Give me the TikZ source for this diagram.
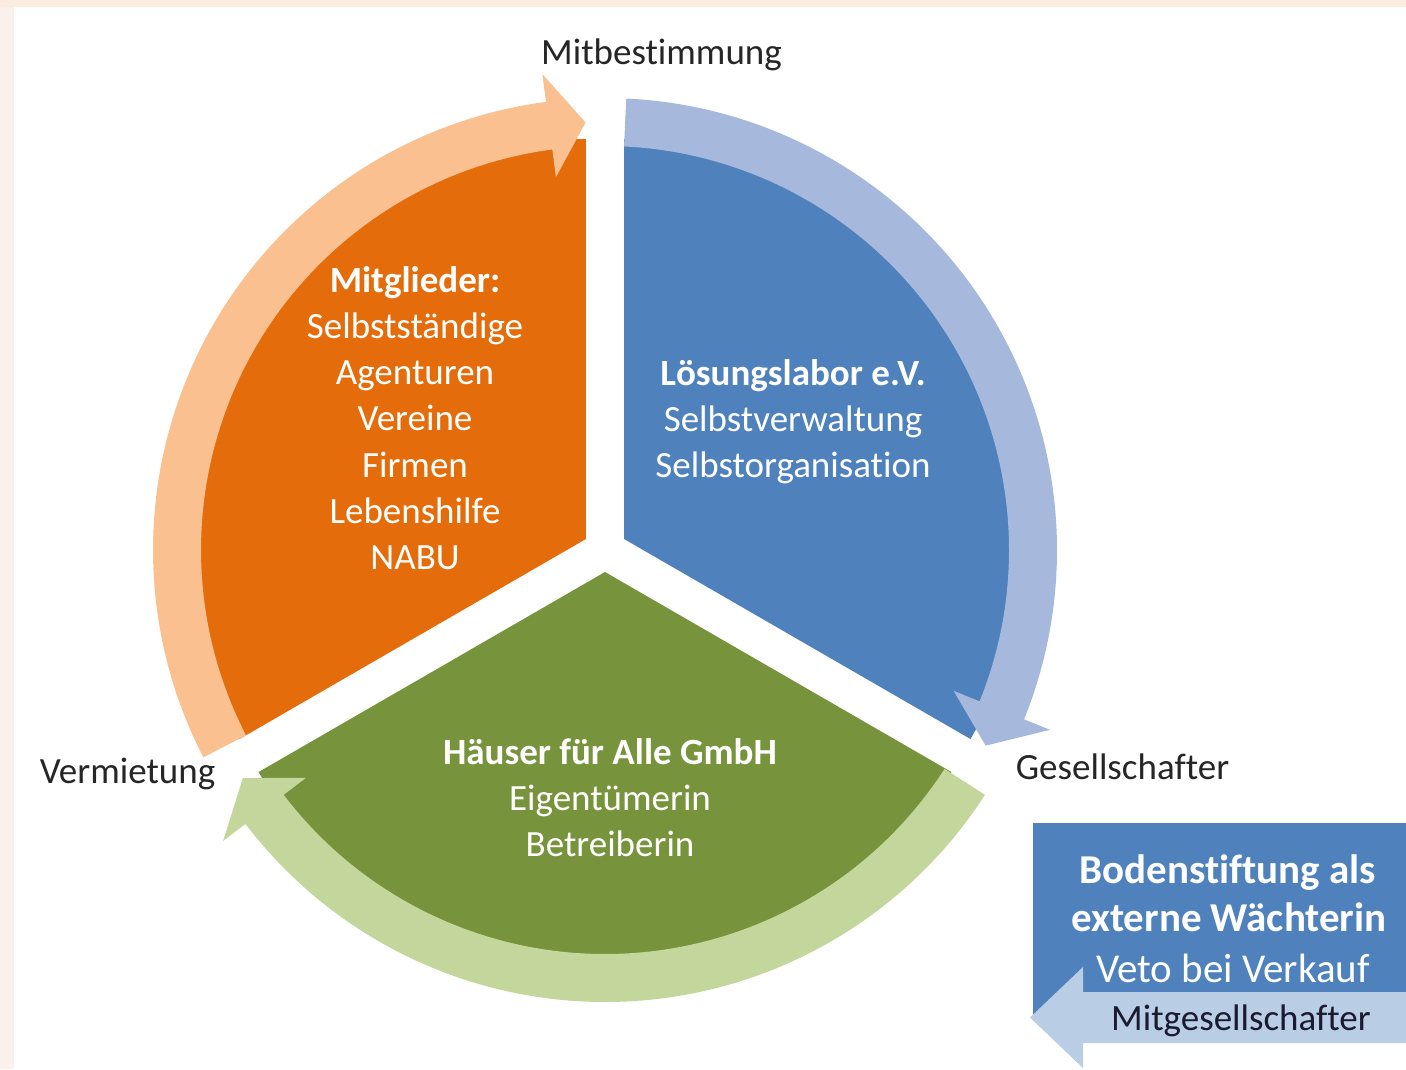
\documentclass[tikz,border=0pt]{standalone}
\usepackage{fontspec}
\setmainfont{Carlito}[Ligatures=NoCommon]
\usetikzlibrary{calc}

\definecolor{peachtop}{HTML}{FBEBE0}
\definecolor{peachleft}{HTML}{FBF1EC}
\definecolor{segorange}{HTML}{E46C0A}
\definecolor{arrorange}{HTML}{FAC090}
\definecolor{segblue}{HTML}{4F81BD}
\definecolor{arrblue}{HTML}{A6B9DD}
\definecolor{seggreen}{HTML}{77933C}
\definecolor{arrgreen}{HTML}{C3D69B}
\definecolor{boxblue}{HTML}{4F81BD}
\definecolor{boxarrow}{HTML}{B9CDE5}
\definecolor{labelgray}{HTML}{262626}
\definecolor{darktext}{HTML}{1A1A30}

% curved arrow around the centre C: colour, tail angle, head base angle, tip angle
\newcommand{\cyclearrow}[4]{%
  \fill[#1] ($(C)+(#2:452pt)$) arc[start angle=#2, end angle=#3, radius=452pt]
    -- ($(C)+(#3:480pt)$) -- ($(C)+(#4:428pt)$) -- ($(C)+(#3:376pt)$)
    -- ($(C)+(#3:404pt)$) arc[start angle=#3, end angle=#2, radius=404pt] -- cycle;}

\begin{document}
\begin{tikzpicture}[x=1pt,y=1pt,
  seg/.style={font=\fontsize{37}{44}\selectfont, text=white, anchor=base, inner sep=0pt},
  seghead/.style={seg, font=\fontsize{37}{44}\selectfont\bfseries},
  outerlbl/.style={font=\fontsize{37}{44}\selectfont, text=labelgray, anchor=base, inner sep=0pt},
  boxhead/.style={font=\fontsize{41}{48}\selectfont\bfseries, text=white, anchor=base, inner sep=0pt},
  boxline/.style={font=\fontsize{41}{48}\selectfont, text=white, anchor=base, inner sep=0pt},
  arrline/.style={font=\fontsize{37}{44}\selectfont, text=darktext, anchor=base, inner sep=0pt}]

\useasboundingbox (0,0) rectangle (1406,-1069);

% page background with its peach margins
\fill[peachtop] (0,0) rectangle (1406,-7);
\fill[peachleft] (0,-7) rectangle (14,-1069);
\fill[white] (14,-7) rectangle (1406,-1069);

\coordinate (C) at (605,-550);

% three pie segments, each pushed out along its bisector
\coordinate (Vo) at ($(C)+(150:22pt)$);
\coordinate (Vb) at ($(C)+(30:22pt)$);
\coordinate (Vg) at ($(C)+(270:22pt)$);
\fill[segorange] (Vo) -- ++(90:400pt) arc[start angle=90, end angle=210, radius=400pt] -- cycle;
\fill[segblue] (Vb) -- ++(90:400pt) arc[start angle=90, end angle=-30, radius=400pt] -- cycle;
\fill[seggreen] (Vg) -- ++(210:400pt) arc[start angle=210, end angle=330, radius=400pt] -- cycle;

% arrows running clockwise round the circle
\cyclearrow{arrorange}{207.3}{97.5}{92.6}
\cyclearrow{arrblue}{87.3}{-22}{-27.2}
\cyclearrow{arrgreen}{327.2}{217.3}{212.2}

% segment texts
\node[seghead] (members) at (415,-292) {Mitglieder:};
\foreach \txt [count=\i] in {Selbstständige,Agenturen,Vereine,Firmen,Lebenshilfe,NABU}
  \node[seg] (member\i) at (415,{-292-46.3*\i}) {\txt};

\node[seghead] (lab) at (793,-385) {Lösungslabor e.V.};
\node[seg] (lab1) at (793,-431.3) {Selbstverwaltung};
\node[seg] (lab2) at (793,-477.6) {Selbstorganisation};

\node[seghead] (gmbh) at (610,-764) {Häuser für Alle GmbH};
\node[seg] (gmbh1) at (610,-810.3) {Eigentümerin};
\node[seg] (gmbh2) at (610,-856.6) {Betreiberin};

% labels outside the circle
\node[outerlbl] (mitbest) at (661.5,-64) {Mitbestimmung};
\node[outerlbl] (verm) at (127.5,-783) {Vermietung};
\node[outerlbl] (gesell) at (1122.5,-779) {Gesellschafter};

% foundation box with its incoming arrow
\fill[boxblue] (1033,-823) rectangle (1406,-1020);
\node[boxhead] (stift1) at (1228,-883) {Bodenstiftung als};
\node[boxhead] (stift2) at (1229,-931) {externe Wächterin};
\node[boxline] (stift3) at (1233,-982) {Veto bei Verkauf};
\fill[boxarrow] (1406,-992) -- (1083,-992) -- (1083,-967) -- (1030,-1017.5)
  -- (1083,-1068) -- (1083,-1043) -- (1406,-1043) -- cycle;
\node[arrline] (mitges) at (1241,-1030) {Mitgesellschafter};

\end{tikzpicture}
\end{document}
